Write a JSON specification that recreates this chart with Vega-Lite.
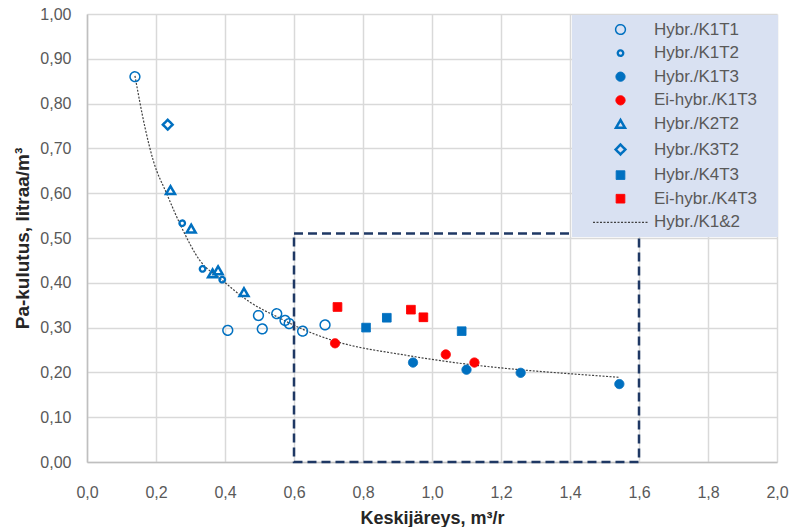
{
  "$schema": "https://vega.github.io/schema/vega-lite/v6.json",
  "width": 690,
  "height": 448,
  "autosize": {"type": "none"},
  "padding": {"left": 87, "top": 14, "right": 17, "bottom": 65},
  "background": "white",
  "config": {
    "locale": {"number": {"decimal": ",", "thousands": "\u00a0", "grouping": [3], "currency": ["", " €"]}},
    "view": {"stroke": null},
    "font": "Liberation Sans"
  },
  "datasets": {
    "pts": [
      {"series": "Hybr./K1T1", "x": 0.139, "y": 0.86},
      {"series": "Hybr./K1T1", "x": 0.408, "y": 0.294},
      {"series": "Hybr./K1T1", "x": 0.497, "y": 0.327},
      {"series": "Hybr./K1T1", "x": 0.508, "y": 0.297},
      {"series": "Hybr./K1T1", "x": 0.55, "y": 0.331},
      {"series": "Hybr./K1T1", "x": 0.574, "y": 0.316},
      {"series": "Hybr./K1T1", "x": 0.586, "y": 0.309},
      {"series": "Hybr./K1T1", "x": 0.625, "y": 0.292},
      {"series": "Hybr./K1T1", "x": 0.69, "y": 0.306},
      {"series": "Hybr./K1T2", "x": 0.276, "y": 0.533},
      {"series": "Hybr./K1T2", "x": 0.335, "y": 0.431},
      {"series": "Hybr./K1T2", "x": 0.392, "y": 0.407},
      {"series": "Hybr./K1T3", "x": 0.945, "y": 0.222},
      {"series": "Hybr./K1T3", "x": 1.1, "y": 0.206},
      {"series": "Hybr./K1T3", "x": 1.257, "y": 0.199},
      {"series": "Hybr./K1T3", "x": 1.543, "y": 0.174},
      {"series": "Ei-hybr./K1T3", "x": 0.719, "y": 0.265},
      {"series": "Ei-hybr./K1T3", "x": 1.04, "y": 0.24},
      {"series": "Ei-hybr./K1T3", "x": 1.123, "y": 0.222},
      {"series": "Hybr./K2T2", "x": 0.242, "y": 0.607},
      {"series": "Hybr./K2T2", "x": 0.302, "y": 0.521},
      {"series": "Hybr./K2T2", "x": 0.364, "y": 0.421},
      {"series": "Hybr./K2T2", "x": 0.38, "y": 0.428},
      {"series": "Hybr./K2T2", "x": 0.455, "y": 0.379},
      {"series": "Hybr./K3T2", "x": 0.234, "y": 0.753},
      {"series": "Hybr./K4T3", "x": 0.809, "y": 0.3},
      {"series": "Hybr./K4T3", "x": 0.869, "y": 0.322},
      {"series": "Hybr./K4T3", "x": 1.086, "y": 0.292},
      {"series": "Ei-hybr./K4T3", "x": 0.726, "y": 0.346},
      {"series": "Ei-hybr./K4T3", "x": 0.939, "y": 0.34},
      {"series": "Ei-hybr./K4T3", "x": 0.975, "y": 0.323}
    ],
    "trend": [
      {"x": 0.139, "y": 0.862},
      {"x": 0.168, "y": 0.747},
      {"x": 0.192, "y": 0.673},
      {"x": 0.231, "y": 0.599},
      {"x": 0.274, "y": 0.524},
      {"x": 0.326, "y": 0.451},
      {"x": 0.39, "y": 0.407},
      {"x": 0.472, "y": 0.357},
      {"x": 0.559, "y": 0.321},
      {"x": 0.617, "y": 0.299},
      {"x": 0.714, "y": 0.271},
      {"x": 0.927, "y": 0.238},
      {"x": 1.139, "y": 0.215},
      {"x": 1.255, "y": 0.206},
      {"x": 1.4, "y": 0.197},
      {"x": 1.545, "y": 0.189}
    ],
    "box": [{"x": 0.6, "x2": 1.6, "y": 0, "y2": 0.51}]
  },
  "encoding": {
    "x": {
      "field": "x", "type": "quantitative",
      "scale": {"domain": [0, 2], "nice": false, "zero": false},
      "axis": {
        "values": [0, 0.2, 0.4, 0.6, 0.8, 1.0, 1.2, 1.4, 1.6, 1.8, 2.0],
        "format": ".1f", "labelFlush": false, "labelOverlap": false,
        "title": "Keskijäreys, m³/r",
        "grid": true, "gridColor": "#D9D9D9", "gridWidth": 1.5,
        "domainColor": "#BFBFBF", "domainWidth": 1.5,
        "ticks": false, "tickSize": 0,
        "labelPadding": 22, "labelFontSize": 16, "labelColor": "#595959", "labelFont": "Liberation Sans",
        "titleFontSize": 18, "titleFontWeight": "bold", "titleColor": "#262626", "titleFont": "Liberation Sans",
        "titleBaseline": "middle", "titleY": 56
      }
    },
    "y": {
      "field": "y", "type": "quantitative",
      "scale": {"domain": [0, 1], "nice": false},
      "axis": {
        "values": [0, 0.1, 0.2, 0.3, 0.4, 0.5, 0.6, 0.7, 0.8, 0.9, 1.0],
        "format": ".2f", "labelFlush": false, "labelOverlap": false,
        "title": "Pa-kulutus, litraa/m³",
        "grid": true, "gridColor": "#D9D9D9", "gridWidth": 1.5,
        "domainColor": "#BFBFBF", "domainWidth": 1.5,
        "ticks": false, "tickSize": 0,
        "labelPadding": 16, "labelFontSize": 16, "labelColor": "#595959", "labelFont": "Liberation Sans",
        "titleFontSize": 19, "titleFontWeight": "bold", "titleColor": "#262626", "titleFont": "Liberation Sans",
        "titleBaseline": "middle", "titleAlign": "center", "titleX": -65, "titleY": 224
      }
    }
  },
  "layer": [
    {
      "data": {"name": "trend"},
      "mark": {"type": "line", "stroke": "#404040", "strokeWidth": 1.2, "strokeDash": [2, 1.5], "interpolate": "monotone"},
      "encoding": {}
    },
    {
      "data": {"name": "pts"},
      "mark": {"type": "point", "opacity": 1},
      "encoding": {
        "shape": {
          "field": "series", "type": "nominal",
          "scale": {
            "domain": ["Hybr./K1T1", "Hybr./K1T2", "Hybr./K1T3", "Ei-hybr./K1T3", "Hybr./K2T2", "Hybr./K3T2", "Hybr./K4T3", "Ei-hybr./K4T3", "Hybr./K1&2"],
            "range": ["circle", "circle", "circle", "circle", "triangle-up", "diamond", "square", "square", "M-5,0H5"]
          },
          "legend": {
            "orient": "none", "legendX": 485, "legendY": 1,
            "title": "\u00a0", "titleOrient": "right", "titlePadding": 15, "titleFontSize": 17,
            "fillColor": "#D9E1F2", "padding": 6, "rowPadding": 5.6,
            "symbolOffset": 34, "labelOffset": 25,
            "labelFontSize": 17, "labelColor": "#595959", "labelFont": "Liberation Sans", "labelLimit": 300
          }
        },
        "fill": {
          "field": "series", "type": "nominal",
          "scale": {
            "domain": ["Hybr./K1T1", "Hybr./K1T2", "Hybr./K1T3", "Ei-hybr./K1T3", "Hybr./K2T2", "Hybr./K3T2", "Hybr./K4T3", "Ei-hybr./K4T3", "Hybr./K1&2"],
            "range": ["transparent", "transparent", "#0070C0", "#FF0000", "transparent", "transparent", "#0070C0", "#FF0000", "transparent"]
          }
        },
        "stroke": {
          "field": "series", "type": "nominal",
          "scale": {
            "domain": ["Hybr./K1T1", "Hybr./K1T2", "Hybr./K1T3", "Ei-hybr./K1T3", "Hybr./K2T2", "Hybr./K3T2", "Hybr./K4T3", "Ei-hybr./K4T3", "Hybr./K1&2"],
            "range": ["#0070C0", "#0070C0", "#0070C0", "#FF0000", "#0070C0", "#0070C0", "#0070C0", "#FF0000", "#404040"]
          }
        },
        "size": {
          "field": "series", "type": "nominal",
          "scale": {
            "type": "ordinal",
            "domain": ["Hybr./K1T1", "Hybr./K1T2", "Hybr./K1T3", "Ei-hybr./K1T3", "Hybr./K2T2", "Hybr./K3T2", "Hybr./K4T3", "Ei-hybr./K4T3", "Hybr./K1&2"],
            "range": [95, 30, 85, 85, 80, 95, 75, 75, 121]
          }
        },
        "strokeWidth": {
          "field": "series", "type": "nominal",
          "scale": {
            "type": "ordinal",
            "domain": ["Hybr./K1T1", "Hybr./K1T2", "Hybr./K1T3", "Ei-hybr./K1T3", "Hybr./K2T2", "Hybr./K3T2", "Hybr./K4T3", "Ei-hybr./K4T3", "Hybr./K1&2"],
            "range": [1.5, 2.3, 1, 1, 2.5, 2.5, 1, 1, 1.2]
          }
        },
        "strokeDash": {
          "field": "series", "type": "nominal",
          "scale": {
            "domain": ["Hybr./K1T1", "Hybr./K1T2", "Hybr./K1T3", "Ei-hybr./K1T3", "Hybr./K2T2", "Hybr./K3T2", "Hybr./K4T3", "Ei-hybr./K4T3", "Hybr./K1&2"],
            "range": [[1, 0], [1, 0], [1, 0], [1, 0], [1, 0], [1, 0], [1, 0], [1, 0], [2, 1.5]]
          }
        }
      }
    },
    {
      "data": {"name": "box"},
      "mark": {"type": "rect", "fill": "transparent", "stroke": "#1F3864", "strokeWidth": 2.5, "strokeDash": [9, 5]},
      "encoding": {
        "x2": {"field": "x2"},
        "y2": {"field": "y2"}
      }
    }
  ]
}
